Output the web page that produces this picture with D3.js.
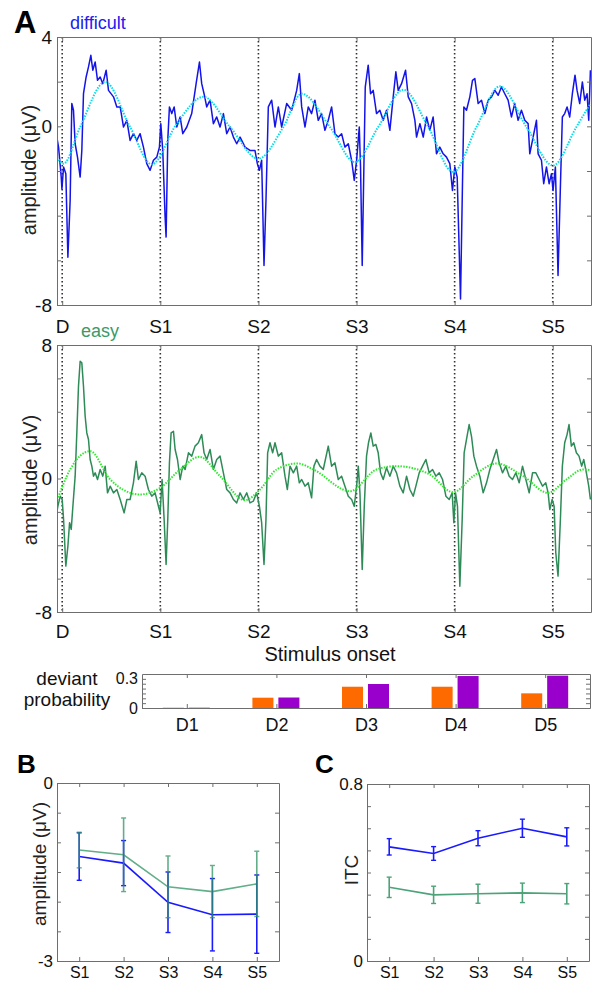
<!DOCTYPE html>
<html>
<head>
<meta charset="utf-8">
<script src="https://cdn.jsdelivr.net/npm/d3@7"></script>
<style>
  body { margin: 0; background: #fff; }
  text { font-family: "Liberation Sans", Arial, sans-serif; }
</style>
</head>
<body>
<div id="fig"></div>
<script>
// ---- data ----
var stimLabels = ["D", "S1", "S2", "S3", "S4", "S5"];
var stimTimes = [0, 1, 2, 3, 4, 5];

// panel A, difficult condition: [time (stimulus units), amplitude uV]
var difficultTrace = [
  [-0.061,-0.33],[-0.037,-0.93],[-0.010,-2.27],[-0.003,-2.80],[0.014,-1.82],[0.037,-2.12],[0.058,-5.86],[0.081,-3.32],
  [0.098,1.02],[0.115,0.72],[0.132,-0.78],[0.156,-1.38],[0.183,-2.27],[0.200,-1.08],[0.217,1.46],[0.244,2.21],
  [0.268,2.66],[0.292,3.18],[0.312,2.51],[0.336,2.88],[0.360,2.06],[0.387,2.21],[0.414,1.91],[0.448,2.51],
  [0.472,1.61],[0.523,1.32],[0.557,0.87],[0.591,0.87],[0.625,-0.03],[0.659,0.27],[0.692,-0.63],[0.726,-0.33],
  [0.760,-0.63],[0.794,-0.33],[0.828,-0.93],[0.862,-1.67],[0.896,-1.97],[0.930,-1.52],[0.964,-1.38],[0.991,-0.93],
  [1.005,0.12],[1.025,-1.08],[1.049,-4.07],[1.059,-4.96],[1.076,-0.63],[1.093,0.87],[1.117,0.57],[1.141,0.87],
  [1.168,-0.03],[1.202,0.42],[1.229,-0.33],[1.270,-0.03],[1.320,0.57],[1.365,1.91],[1.399,2.88],[1.422,1.91],
  [1.446,1.46],[1.473,0.87],[1.507,1.17],[1.541,0.12],[1.575,0.42],[1.609,-0.03],[1.643,0.57],[1.677,-0.33],
  [1.711,-0.03],[1.745,-0.48],[1.779,-0.78],[1.813,-0.48],[1.864,-0.93],[1.914,-1.08],[1.965,-1.08],[1.989,-1.67],
  [2.010,-1.97],[2.033,-1.52],[2.057,-6.23],[2.077,-3.32],[2.101,0.87],[2.135,1.17],[2.169,-0.03],[2.203,0.87],
  [2.237,-0.03],[2.288,1.02],[2.339,0.72],[2.390,1.61],[2.417,2.36],[2.441,0.87],[2.475,-0.03],[2.508,0.87],
  [2.542,0.57],[2.576,1.17],[2.610,0.27],[2.644,0.57],[2.678,-0.18],[2.712,0.27],[2.746,0.87],[2.780,-0.33],
  [2.814,-0.48],[2.848,-0.33],[2.882,-0.93],[2.916,-0.78],[2.950,-1.52],[2.977,-2.42],[3.001,-1.52],[3.028,-0.03],
  [3.041,-1.82],[3.058,-6.23],[3.075,-1.82],[3.089,1.76],[3.119,2.74],[3.143,1.46],[3.170,1.61],[3.204,0.57],
  [3.238,0.72],[3.272,0.27],[3.306,0.72],[3.340,-0.18],[3.374,1.32],[3.401,2.44],[3.425,1.61],[3.459,1.91],
  [3.500,2.51],[3.527,1.32],[3.561,1.02],[3.595,0.27],[3.612,-0.48],[3.646,0.12],[3.680,-0.48],[3.714,0.42],
  [3.747,-0.18],[3.781,0.42],[3.815,-1.23],[3.849,-0.93],[3.883,-1.23],[3.917,-1.38],[3.951,-1.67],[3.978,-2.87],
  [4.002,-1.82],[4.026,-2.27],[4.060,-7.73],[4.080,-2.57],[4.094,0.87],[4.121,0.72],[4.155,1.32],[4.182,2.06],
  [4.206,2.14],[4.240,1.02],[4.274,1.17],[4.308,0.57],[4.342,1.17],[4.376,1.32],[4.410,1.61],[4.444,1.39],
  [4.477,1.76],[4.511,1.46],[4.545,1.17],[4.579,0.42],[4.613,1.02],[4.647,0.27],[4.681,0.72],[4.715,0.27],
  [4.749,0.12],[4.766,-1.23],[4.800,-0.48],[4.834,0.27],[4.851,-1.23],[4.885,-1.52],[4.908,-2.57],[4.936,-1.82],
  [4.963,-2.57],[4.987,-2.12],[5.003,-2.87],[5.027,-1.82],[5.054,-6.68],[5.078,-2.72],[5.098,0.42],[5.122,0.57],
  [5.146,0.87],[5.173,0.42],[5.200,1.46],[5.227,2.29],[5.248,1.61],[5.275,1.02],[5.302,1.99],[5.326,1.17],
  [5.350,1.46],[5.367,0.27],[5.384,2.51]
];
var difficultFit = [
  [-0.054,-1.38],[0.014,-1.67],[0.183,-0.03],[0.438,1.99],[0.692,-0.03],[0.913,-1.70],[1.168,0.12],[1.439,1.32],
  [1.711,-0.03],[1.999,-1.45],[2.254,-0.03],[2.441,1.46],[2.729,-0.03],[2.984,-1.60],[3.221,-0.03],[3.476,1.64],
  [3.731,-0.03],[3.985,-2.05],[4.223,-0.03],[4.460,1.79],[4.732,-0.03],[5.003,-1.75],[5.241,-0.03],[5.384,1.02]
];

// panel A, easy condition
var easyTrace = [
  [-0.061,-2.26],[-0.044,-1.66],[-0.020,-1.06],[0.000,-1.26],[0.014,-2.46],[0.037,-5.25],[0.058,-4.05],[0.075,-2.65],
  [0.092,-3.05],[0.109,-1.66],[0.132,0.14],[0.149,2.73],[0.166,5.53],[0.183,7.03],[0.200,6.93],[0.217,5.53],
  [0.234,3.73],[0.251,2.73],[0.268,2.34],[0.285,1.14],[0.302,0.74],[0.319,0.14],[0.336,0.34],[0.360,-0.06],
  [0.387,0.54],[0.414,0.14],[0.438,0.74],[0.462,-0.86],[0.489,-0.46],[0.523,-0.86],[0.557,-0.66],[0.591,-1.26],
  [0.631,-2.06],[0.659,-1.26],[0.692,-1.26],[0.726,-0.26],[0.754,1.04],[0.777,-0.06],[0.811,0.34],[0.845,0.14],
  [0.879,-0.66],[0.913,-1.06],[0.947,-0.86],[0.981,-1.66],[0.998,-2.06],[1.018,-0.06],[1.039,-2.46],[1.059,-5.15],
  [1.076,-2.46],[1.093,0.94],[1.110,2.73],[1.134,2.83],[1.151,1.74],[1.175,1.14],[1.202,-0.06],[1.229,0.74],
  [1.253,0.54],[1.287,1.54],[1.320,1.34],[1.354,1.94],[1.388,2.14],[1.422,2.63],[1.446,1.54],[1.473,1.14],
  [1.507,1.74],[1.541,0.54],[1.575,1.14],[1.609,1.34],[1.643,0.34],[1.677,-0.66],[1.711,-0.86],[1.745,-1.26],
  [1.779,-1.46],[1.813,-0.86],[1.847,-1.26],[1.881,-0.86],[1.914,-1.46],[1.948,-1.36],[1.982,-0.86],[2.010,-1.66],
  [2.033,-2.65],[2.057,-5.15],[2.077,-2.46],[2.094,1.54],[2.118,2.14],[2.145,1.54],[2.169,2.14],[2.203,1.34],
  [2.237,1.54],[2.271,0.14],[2.295,-0.66],[2.322,0.74],[2.356,0.34],[2.390,0.74],[2.417,-0.26],[2.441,-0.06],
  [2.475,-0.46],[2.508,-0.26],[2.542,-1.16],[2.566,0.74],[2.593,1.14],[2.627,0.74],[2.661,0.54],[2.712,1.94],
  [2.746,0.74],[2.780,0.94],[2.814,-0.06],[2.848,0.14],[2.882,-0.46],[2.916,-1.06],[2.950,-1.26],[2.977,-1.66],
  [3.001,-0.46],[3.018,0.74],[3.035,-0.86],[3.058,-5.45],[3.079,-1.66],[3.102,1.34],[3.122,2.14],[3.146,2.73],
  [3.170,1.94],[3.197,2.04],[3.221,1.54],[3.245,0.34],[3.272,-0.06],[3.306,0.64],[3.340,0.14],[3.374,0.74],
  [3.408,0.34],[3.442,-0.46],[3.476,-0.86],[3.510,0.14],[3.544,-0.66],[3.578,-1.06],[3.605,-0.46],[3.639,0.34],
  [3.673,0.74],[3.707,1.14],[3.741,0.34],[3.775,0.54],[3.809,0.14],[3.843,0.34],[3.877,-0.06],[3.911,-1.06],
  [3.945,-1.26],[3.975,-0.86],[3.992,-2.65],[4.009,-0.86],[4.029,-1.66],[4.053,-6.45],[4.077,-2.46],[4.097,1.54],
  [4.121,2.34],[4.148,3.23],[4.172,2.53],[4.196,1.34],[4.223,0.74],[4.257,0.14],[4.291,-0.86],[4.325,-0.26],
  [4.359,0.54],[4.393,1.14],[4.427,1.74],[4.454,0.94],[4.488,0.34],[4.522,0.74],[4.556,0.14],[4.590,-0.06],
  [4.624,0.34],[4.658,-0.26],[4.692,0.74],[4.726,-0.06],[4.760,-0.86],[4.794,0.34],[4.828,0.34],[4.862,-0.06],
  [4.896,-0.46],[4.929,-0.26],[4.953,-0.86],[4.970,-1.86],[4.994,-1.26],[5.014,-1.66],[5.031,-4.45],[5.054,-5.85],
  [5.078,-2.46],[5.098,0.74],[5.122,2.14],[5.146,2.63],[5.166,3.23],[5.190,1.94],[5.214,2.14],[5.241,1.54],
  [5.268,1.34],[5.295,0.74],[5.316,1.14],[5.343,0.34],[5.367,-0.46],[5.384,-1.26]
];
var easyFit = [
  [-0.061,-1.46],[0.081,0.54],[0.285,1.64],[0.489,-0.06],[0.794,-0.96],[0.998,-0.56],[1.202,0.54],[1.399,1.30],
  [1.609,0.14],[1.864,-1.30],[2.016,-0.66],[2.186,0.54],[2.400,0.90],[2.560,0.54],[2.933,-0.76],[3.204,0.54],
  [3.408,0.74],[3.747,0.24],[3.985,-0.82],[4.189,0.14],[4.427,0.90],[4.699,0.14],[4.953,-0.86],[5.139,-0.06],
  [5.309,0.54],[5.384,0.50]
];

// deviant probability bars
var devLabels = ["D1", "D2", "D3", "D4", "D5"];
var devOrange = [0.003, 0.106, 0.219, 0.219, 0.151];
var devPurple = [0.003, 0.108, 0.247, 0.329, 0.333];

// panels B and C
var sLabels = ["S1", "S2", "S3", "S4", "S5"];
var bDiffMean = [-1.24, -1.35, -2.01, -2.22, -2.21];
var bDiffErr  = [0.40, 0.38, 0.51, 0.61, 0.66];
var bEasyMean = [-1.13, -1.21, -1.75, -1.83, -1.70];
var bEasyErr  = [0.30, 0.62, 0.52, 0.44, 0.55];
var cDiffMean = [0.516, 0.486, 0.555, 0.600, 0.561];
var cDiffErr  = [0.037, 0.031, 0.034, 0.041, 0.041];
var cEasyMean = [0.333, 0.299, 0.304, 0.308, 0.304];
var cEasyErr  = [0.046, 0.039, 0.043, 0.044, 0.046];

// ---- drawing ----
var blue = "#1414e8", cyan = "#00dcec", green = "#2e8b57", lime = "#2ee82e";
var frameColor = "#6e6e6e";

var svg = d3.select("#fig").append("svg")
  .attr("width", 596)
  .attr("height", 986);

// box with matlab style inside ticks, built from d3 axes
function box(x, y, xTicks, xFmt, yTicks, yFmt, opt) {
  var x0 = x.range()[0], x1 = x.range()[1];
  var y0 = y.range()[1], y1 = y.range()[0];
  var axes = [
    d3.axisLeft(y).tickValues(yTicks).tickFormat(yFmt).tickPadding(opt.yPad),
    d3.axisRight(y).tickValues(yTicks).tickFormat(""),
    d3.axisBottom(x).tickValues(xTicks).tickFormat(xFmt).tickPadding(opt.xPad),
    d3.axisTop(x).tickValues(xTicks).tickFormat("")
  ];
  var pos = [[x0, 0], [x1, 0], [0, y1], [0, y0]];
  axes.forEach(function(a, i) {
    var g = svg.append("g")
      .attr("transform", `translate(${pos[i][0]},${pos[i][1]})`)
      .call(a.tickSize(-4).tickSizeOuter(0));
    g.select(".domain").attr("stroke", frameColor);
    g.selectAll(".tick line").attr("stroke", frameColor);
    g.selectAll("text")
      .attr("font-family", "Liberation Sans, Arial, sans-serif")
      .attr("font-size", i == 0 ? opt.yFont : opt.xFont)
      .attr("fill", "#111");
  });
}

function ylabel(txt, x, y, size) {
  svg.append("text")
    .attr("transform", `translate(${x},${y}) rotate(-90)`)
    .attr("text-anchor", "middle")
    .attr("font-size", size)
    .attr("fill", "#222")
    .text(txt);
}

function label(txt, x, y, size, color, weight, anchor) {
  svg.append("text")
    .attr("x", x).attr("y", y)
    .attr("font-size", size)
    .attr("font-weight", weight || "normal")
    .attr("text-anchor", anchor || "start")
    .attr("fill", color)
    .text(txt);
}

// ---- panel A ----
var xA = d3.scaleLinear().domain([-0.053, 5.39]).range([57, 591]);
var yTop = d3.scaleLinear().domain([-8, 4]).range([305, 37]);
var yBot = d3.scaleLinear().domain([-8, 8]).range([612, 345]);

function tracePanel(y, trace, fit, col, fitCol, ticks, shown, xPad, clipId) {
  svg.append("clipPath").attr("id", clipId)
    .append("rect")
    .attr("x", xA.range()[0]).attr("y", y.range()[1])
    .attr("width", xA.range()[1] - xA.range()[0])
    .attr("height", y.range()[0] - y.range()[1]);

  var g = svg.append("g").attr("clip-path", `url(#${clipId})`);

  g.selectAll(".stim")
    .data(stimTimes)
    .enter()
    .append("line")
    .attr("x1", d => xA(d)).attr("x2", d => xA(d))
    .attr("y1", y.range()[1]).attr("y2", y.range()[0])
    .attr("stroke", "#333")
    .attr("stroke-width", 1.6)
    .attr("stroke-dasharray", "1.6,2.4");

  var line = d3.line().x(d => xA(d[0])).y(d => y(d[1]));

  g.append("path")
    .attr("d", line(trace))
    .attr("fill", "none")
    .attr("stroke", col)
    .attr("stroke-width", 1.5)
    .attr("stroke-linejoin", "round");

  g.append("path")
    .attr("d", line.curve(d3.curveMonotoneX)(fit))
    .attr("fill", "none")
    .attr("stroke", fitCol)
    .attr("stroke-width", 2)
    .attr("stroke-dasharray", "1.5,1.3");

  box(xA, y, stimTimes, (d, i) => stimLabels[i], ticks,
      d => shown.indexOf(d) >= 0 ? String(d) : "",
      { yPad: 5, xPad: xPad, xFont: 19, yFont: 19 });
}

tracePanel(yTop, difficultTrace, difficultFit, blue, cyan,
           [-8, -6, -4, -2, 0, 2, 4], [-8, 0, 4], 14.5, "clipTop");
tracePanel(yBot, easyTrace, easyFit, green, lime,
           [-8, -6, -4, -2, 0, 2, 4, 6, 8], [-8, 0, 8], 12.5, "clipBot");

label("A", 14, 33, 31, "#000", "bold");
label("difficult", 70, 29, 18, "#2020ee");
label("easy", 81, 337, 18, "#3a9a6a");
ylabel("amplitude (\u03bcV)", 36, 170, 20);
ylabel("amplitude (\u03bcV)", 37, 480, 20);
label("Stimulus onset", 330, 661, 20, "#111", "normal", "middle");

// ---- deviant probability ----
var xDev = d3.scaleBand().domain(devLabels).range([142, 590]);
var xSub = d3.scaleBand().domain(["o", "p"]).range([-24, 23]).paddingInner(0.19);
var yDev = d3.scaleLinear().domain([0, 0.35]).range([708, 674]);

svg.selectAll(".barO")
  .data(devOrange)
  .enter()
  .append("rect")
  .attr("x", (d, i) => xDev(devLabels[i]) + xDev.bandwidth() / 2 + xSub("o"))
  .attr("y", d => yDev(d))
  .attr("width", xSub.bandwidth())
  .attr("height", d => yDev(0) - yDev(d))
  .attr("fill", "#ff6a00");

svg.selectAll(".barP")
  .data(devPurple)
  .enter()
  .append("rect")
  .attr("x", (d, i) => xDev(devLabels[i]) + xDev.bandwidth() / 2 + xSub("p"))
  .attr("y", d => yDev(d))
  .attr("width", xSub.bandwidth())
  .attr("height", d => yDev(0) - yDev(d))
  .attr("fill", "#9900cc");

// band axis ticks sit on band centres
var xDevLin = d3.scaleLinear().domain([0.5, 5.5]).range([142, 590]);
box(xDevLin, yDev, [1, 2, 3, 4, 5], (d, i) => devLabels[i],
    [0, 0.05, 0.1, 0.15, 0.2, 0.25, 0.3], d => (d == 0 || d == 0.3) ? String(d) : "",
    { yPad: 4, xPad: 10, xFont: 18, yFont: 16 });

label("deviant", 67, 685, 19, "#111", "normal", "middle");
label("probability", 67, 706, 19, "#111", "normal", "middle");

// ---- panels B and C ----
function errPanel(x, y, yTicks, shown, series, lab, ylab, labX, ylabX, ylabY) {
  series.forEach(function(s) {
    var g = svg.append("g").attr("opacity", s.op);
    var line = d3.line().x((d, i) => x(i + 1)).y(d => y(d));
    g.append("path")
      .attr("d", line(s.mean))
      .attr("fill", "none")
      .attr("stroke", s.col)
      .attr("stroke-width", 1.6);
    var eb = g.selectAll(".eb").data(s.mean).enter().append("g");
    eb.append("line")
      .attr("x1", (d, i) => x(i + 1)).attr("x2", (d, i) => x(i + 1))
      .attr("y1", (d, i) => y(d - s.err[i])).attr("y2", (d, i) => y(d + s.err[i]))
      .attr("stroke", s.col).attr("stroke-width", 1.6);
    [-1, 1].forEach(function(k) {
      eb.append("line")
        .attr("x1", (d, i) => x(i + 1) - 2.5).attr("x2", (d, i) => x(i + 1) + 2.5)
        .attr("y1", (d, i) => y(d + k * s.err[i])).attr("y2", (d, i) => y(d + k * s.err[i]))
        .attr("stroke", s.col).attr("stroke-width", 1.4);
    });
  });

  box(x, y, [1, 2, 3, 4, 5], (d, i) => sLabels[i], yTicks,
      d => shown.indexOf(d) >= 0 ? String(d) : "",
      { yPad: 4, xPad: 6, xFont: 16, yFont: 17 });

  label(lab, labX, 773, 26, "#000", "bold");
  ylabel(ylab, ylabX, ylabY, 19);
}

var xB = d3.scaleLinear().domain([0.5, 5.5]).range([57, 279]);
var yB = d3.scaleLinear().domain([-3, 0]).range([961, 783]);
errPanel(xB, yB, [-3, -2.5, -2, -1.5, -1, -0.5, 0], [-3, 0],
  [{ mean: bDiffMean, err: bDiffErr, col: "#1a1aff", op: 1 },
   { mean: bEasyMean, err: bEasyErr, col: "#2e9462", op: 0.75 }],
  "B", "amplitude (\u03bcV)", 17, 46, 864);

var xC = d3.scaleLinear().domain([0.5, 5.5]).range([367, 589]);
var yC = d3.scaleLinear().domain([0, 0.8]).range([961, 784]);
errPanel(xC, yC, [0, 0.1, 0.2, 0.3, 0.4, 0.5, 0.6, 0.7, 0.8], [0, 0.8],
  [{ mean: cDiffMean, err: cDiffErr, col: "#1a1aff", op: 1 },
   { mean: cEasyMean, err: cEasyErr, col: "#2e9462", op: 0.85 }],
  "C", "ITC", 315, 358, 870);
</script>
</body>
</html>
